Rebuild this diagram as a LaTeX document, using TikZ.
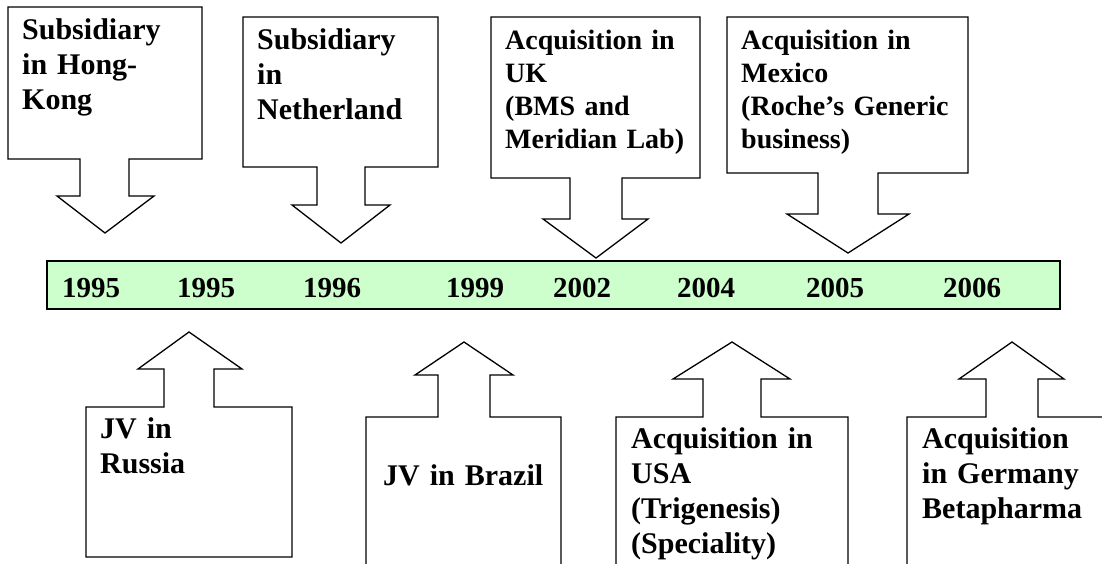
\documentclass[tikz,border=0pt]{standalone}
\usepackage{fontspec}
\setmainfont{Liberation Serif}
\definecolor{barfill}{HTML}{CCFFCC}
\begin{document}
\begin{tikzpicture}[x=1pt,y=-1pt,
  callout/.style={draw=black, line width=1.3pt, line join=miter},
  biglabel/.style={anchor=base west, inner sep=0pt, text width=#1, align=left,
    font=\bfseries\fontsize{30}{35}\selectfont},
  smalllabel/.style={anchor=base west, inner sep=0pt, text width=#1, align=left,
    font=\bfseries\fontsize{28}{33}\selectfont},
  year/.style={anchor=base, inner sep=0pt, font=\bfseries\fontsize{29}{34}\selectfont},
  bar/.style={draw=black, line width=1.3pt, fill=barfill, minimum width=1013pt,
    minimum height=48pt, inner sep=0pt}]
\useasboundingbox (0,0) rectangle (1102,564);

% --- downward callouts (top row)
\draw[callout] (8,7) -- (202,7) -- (202,159) -- (129,159) -- (129,196) -- (154,196)
  -- (105,233) -- (57,196) -- (80,196) -- (80,159) -- (8,159) -- cycle;
\draw[callout] (243,17) -- (438,17) -- (438,167) -- (365,167) -- (365,205) -- (390,205)
  -- (341,243) -- (292,205) -- (317,205) -- (317,167) -- (243,167) -- cycle;
\draw[callout] (491,17) -- (700,17) -- (700,178) -- (622,178) -- (622,219) -- (648,219)
  -- (596,258) -- (543,219) -- (570,219) -- (570,178) -- (491,178) -- cycle;
\draw[callout] (727,17) -- (968,17) -- (968,173) -- (878,173) -- (878,214) -- (909,214)
  -- (848,253) -- (787,214) -- (818,214) -- (818,173) -- (727,173) -- cycle;

% --- upward callouts (bottom row)
\draw[callout] (86,557) -- (86,407) -- (164,407) -- (164,369) -- (138,369) -- (189,332)
  -- (242,369) -- (214,369) -- (214,407) -- (292,407) -- (292,557) -- cycle;
\draw[callout] (366,566) -- (366,417) -- (438,417) -- (438,375) -- (415,375) -- (464,342)
  -- (513,375) -- (490,375) -- (490,417) -- (561,417) -- (561,566);
\draw[callout] (616,566) -- (616,417) -- (703,417) -- (703,379) -- (673,379) -- (732,342)
  -- (790,379) -- (761,379) -- (761,417) -- (848,417) -- (848,566);
\draw[callout] (907,566) -- (907,417) -- (986,417) -- (986,379) -- (959,379) -- (1012,342)
  -- (1064,379) -- (1038,379) -- (1038,417) -- (1104,417);

% --- labels
\node[biglabel=175pt] (hk) at (22,40) {Subsidiary\\in Hong-\\Kong};
\node[biglabel=175pt] (nl) at (257,50) {Subsidiary\\in\\Netherland};
\node[smalllabel=190pt] (uk) at (505,50) {Acquisition in\\UK\\(BMS and\\Meridian Lab)};
\node[smalllabel=220pt] (mx) at (741,50) {Acquisition in\\Mexico\\(Roche’s Generic\\business)};
\node[biglabel=185pt] (ru) at (100,438) {JV in\\Russia};
\node[biglabel=175pt] (br) at (383,485) {JV in Brazil};
\node[biglabel=210pt] (us) at (631,448) {Acquisition in\\USA\\(Trigenesis)\\(Speciality)};
\node[biglabel=175pt] (de) at (922,448) {Acquisition\\in Germany\\Betapharma};

% --- timeline bar
\node[bar] (bar) at (553.5,285) {};
\node[year] (y1) at (91,297) {1995};
\node[year] (y2) at (206,297) {1995};
\node[year] (y3) at (332,297) {1996};
\node[year] (y4) at (475,297) {1999};
\node[year] (y5) at (582,297) {2002};
\node[year] (y6) at (706,297) {2004};
\node[year] (y7) at (835,297) {2005};
\node[year] (y8) at (972,297) {2006};
\end{tikzpicture}
\end{document}
